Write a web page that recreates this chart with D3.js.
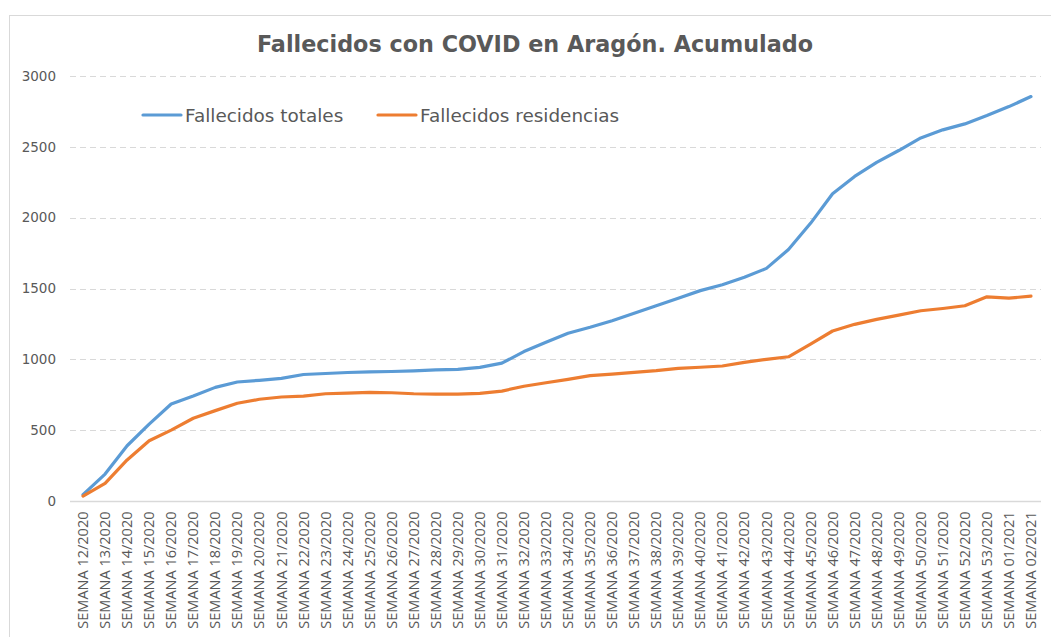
<!DOCTYPE html>
<html>
<head>
<meta charset="utf-8">
<script src="https://cdn.jsdelivr.net/npm/d3@7"></script>
<style>
  body { margin: 0; background: #fff; }
  svg { display: block; }
</style>
</head>
<body>
<script>
// weeks on the x axis
const weeks = [
  "SEMANA 12/2020", "SEMANA 13/2020", "SEMANA 14/2020", "SEMANA 15/2020",
  "SEMANA 16/2020", "SEMANA 17/2020", "SEMANA 18/2020", "SEMANA 19/2020",
  "SEMANA 20/2020", "SEMANA 21/2020", "SEMANA 22/2020", "SEMANA 23/2020",
  "SEMANA 24/2020", "SEMANA 25/2020", "SEMANA 26/2020", "SEMANA 27/2020",
  "SEMANA 28/2020", "SEMANA 29/2020", "SEMANA 30/2020", "SEMANA 31/2020",
  "SEMANA 32/2020", "SEMANA 33/2020", "SEMANA 34/2020", "SEMANA 35/2020",
  "SEMANA 36/2020", "SEMANA 37/2020", "SEMANA 38/2020", "SEMANA 39/2020",
  "SEMANA 40/2020", "SEMANA 41/2020", "SEMANA 42/2020", "SEMANA 43/2020",
  "SEMANA 44/2020", "SEMANA 45/2020", "SEMANA 46/2020", "SEMANA 47/2020",
  "SEMANA 48/2020", "SEMANA 49/2020", "SEMANA 50/2020", "SEMANA 51/2020",
  "SEMANA 52/2020", "SEMANA 53/2020", "SEMANA 01/2021", "SEMANA 02/2021"
];

// cumulative deaths
const totales = [
  45, 190, 390, 543, 685, 741, 802, 840, 852, 866, 893, 900,
  907, 912, 914, 919, 926, 929, 943, 973, 1055, 1120,
  1184, 1226, 1273, 1325, 1379, 1431, 1485, 1527, 1579, 1642,
  1775, 1960, 2169, 2291, 2390, 2474, 2563, 2620, 2662, 2721, 2784, 2855
];
const residencias = [
  35, 125, 290, 425, 500, 584, 638, 690, 718, 734, 740, 757,
  762, 767, 764, 757, 755, 755, 760, 776, 810, 835,
  859, 885, 896, 908, 920, 936, 944, 953, 979, 1000,
  1018, 1108, 1200, 1247, 1282, 1312, 1343, 1359, 1378, 1441, 1432, 1446
];
const yTicks = [0, 500, 1000, 1500, 2000, 2500, 3000];

const series = [
  { name: "Fallecidos totales", values: totales, color: "#5b9bd5" },
  { name: "Fallecidos residencias", values: residencias, color: "#ed7d31" }
];

const width = 1051;
const height = 637;
const textColor = "#595959";
const gridColor = "#d9d9d9";

const svg = d3.select("body")
  .append("svg")
  .attr("width", width)
  .attr("height", height);

// chart frame
svg.append("rect")
  .attr("x", 9.5)
  .attr("y", 15.5)
  .attr("width", 1100)
  .attr("height", 700)
  .attr("fill", "#fff")
  .attr("stroke", gridColor);

const x = d3.scaleBand().domain(weeks).range([72, 1042]);
const y = d3.scaleLinear().domain([0, 3000]).range([501, 76]);

// dashed gridlines
svg.append("g")
  .selectAll("line")
  .data(yTicks.filter((d) => d > 0))
  .join("line")
  .attr("x1", 70)
  .attr("x2", 1041)
  .attr("y1", (d) => Math.round(y(d)) + 0.5)
  .attr("y2", (d) => Math.round(y(d)) + 0.5)
  .attr("stroke", gridColor)
  .attr("stroke-width", 1.2)
  .attr("stroke-dasharray", "6,4");

// y axis labels
const yAxis = d3.axisLeft(y)
  .tickValues(yTicks)
  .tickFormat(d3.format("d"))
  .tickSize(0)
  .tickPadding(0);
svg.append("g")
  .attr("transform", "translate(56,0)")
  .call(yAxis)
  .call((g) => g.select(".domain").remove())
  .selectAll("text")
  .attr("fill", textColor)
  .style("font-family", "DejaVu Sans")
  .style("font-size", "13.5px");

// x axis with rotated week labels
const xAxis = d3.axisBottom(x).tickSize(0).tickPadding(0);
const xg = svg.append("g")
  .attr("transform", `translate(0,${Math.round(y(0)) + 0.5})`)
  .call(xAxis);
xg.select(".domain")
  .attr("stroke", gridColor)
  .attr("stroke-width", 1.5)
  .attr("d", "M70,0H1041");
xg.selectAll("text")
  .attr("fill", textColor)
  .style("font-family", "Open Sans")
  .style("font-size", "14.5px")
  .attr("text-anchor", "end")
  .attr("y", 0)
  .attr("dy", "0.35em")
  .attr("transform", "translate(0,10) rotate(-90)");

// lines
const line = d3.line()
  .x((d, i) => x(weeks[i]) + x.bandwidth() / 2)
  .y((d) => y(d));

svg.append("g")
  .selectAll("path")
  .data(series)
  .join("path")
  .attr("d", (d) => line(d.values))
  .attr("fill", "none")
  .attr("stroke", (d) => d.color)
  .attr("stroke-width", 3.2)
  .attr("stroke-linejoin", "round")
  .attr("stroke-linecap", "round");

// title
svg.append("text")
  .attr("x", 535)
  .attr("y", 52)
  .attr("text-anchor", "middle")
  .attr("fill", textColor)
  .style("font-family", "DejaVu Sans")
  .style("font-weight", "bold")
  .style("font-size", "22.3px")
  .text("Fallecidos con COVID en Aragón. Acumulado");

// legend
const legendX = [143, 378];
const legend = svg.append("g")
  .selectAll("g")
  .data(series)
  .join("g")
  .attr("transform", (d, i) => `translate(${legendX[i]},115)`);
legend.append("line")
  .attr("x1", 0)
  .attr("x2", 38)
  .attr("stroke", (d) => d.color)
  .attr("stroke-width", 3.2)
  .attr("stroke-linecap", "round");
legend.append("text")
  .attr("x", 42)
  .attr("y", 6.5)
  .attr("fill", textColor)
  .style("font-family", "DejaVu Sans")
  .style("font-size", "18.4px")
  .text((d) => d.name);
</script>
</body>
</html>
